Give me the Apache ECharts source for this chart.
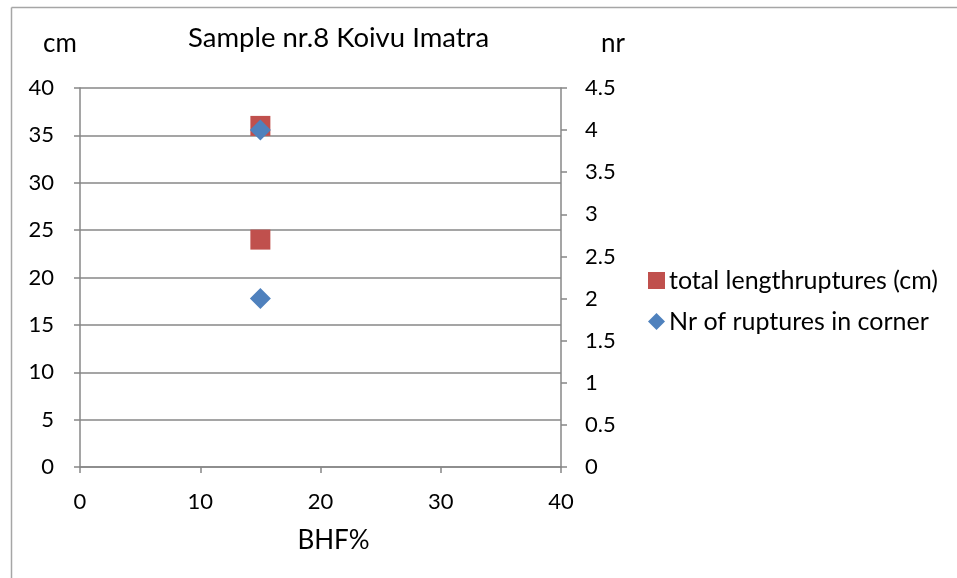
<!DOCTYPE html>
<html>
<head>
<meta charset="utf-8">
<script src="https://cdn.jsdelivr.net/npm/echarts@6/dist/echarts.min.js"></script>
<style>
  html, body { margin: 0; padding: 0; background: #ffffff; }
  #chart { width: 957px; height: 578px; }
</style>
</head>
<body>
<div id="chart"></div>
<script>
// BHF% position of each sample point
const bhf = [15, 15];
// Total length of ruptures, cm (left axis)
const totalLength = [36, 24];
// Number of ruptures in the corner (right axis)
const cornerRuptures = [4, 2];

const seriesNames = ['total lengthruptures (cm)', 'Nr of ruptures in corner'];
const titleText = 'Sample nr.8 Koivu Imatra';
const xName = 'BHF%';
const leftName = 'cm';
const rightName = 'nr';

const FONT = 'Lato';
const GRID = '#878787';

const pairs = (xs, ys) => xs.map((x, i) => [x, ys[i]]);

const chart = echarts.init(document.getElementById('chart'), null, { renderer: 'canvas' });

chart.setOption({
  animation: false,
  backgroundColor: '#ffffff',
  textStyle: { fontFamily: FONT, color: '#000' },
  title: {
    text: titleText,
    left: 188,
    top: 23,
    padding: 0,
    textStyle: { fontFamily: FONT, fontSize: 27.5, fontWeight: 'normal', color: '#000', lineHeight: 30 }
  },
  grid: { left: 80, right: 396, top: 88, bottom: 111, containLabel: false },
  legend: {
    orient: 'vertical',
    left: 648,
    top: 268,
    padding: 0,
    itemWidth: 17,
    itemHeight: 17,
    itemGap: 16,
    textStyle: { fontFamily: FONT, fontSize: 25, color: '#000', lineHeight: 24, padding: [0, 0, 0, -1] },
    data: [
      { name: seriesNames[0], icon: 'rect' },
      { name: seriesNames[1], icon: 'diamond' }
    ]
  },
  xAxis: {
    type: 'value',
    min: 0, max: 40, interval: 10,
    name: xName,
    nameLocation: 'middle',
    nameGap: 61,
    nameTextStyle: { fontFamily: FONT, fontSize: 26, color: '#000', padding: [0, 0, 0, 26] },
    axisLine: { show: true, lineStyle: { color: GRID, width: 1.5 } },
    axisTick: { show: true, inside: false, length: 6, lineStyle: { color: GRID, width: 1.5 } },
    axisLabel: { margin: 24, fontFamily: FONT, fontSize: 22, color: '#000' },
    splitLine: { show: false }
  },
  yAxis: [
    {
      type: 'value',
      position: 'left',
      min: 0, max: 40, interval: 5,
      name: leftName,
      nameLocation: 'end',
      nameGap: 31,
      nameTextStyle: { fontFamily: FONT, fontSize: 26, color: '#000', padding: [0, 40, 0, 0] },
      axisLine: { show: true, lineStyle: { color: GRID, width: 1.5 } },
      axisTick: { show: true, inside: false, length: 6, lineStyle: { color: GRID, width: 1.5 } },
      axisLabel: { margin: 26, fontFamily: FONT, fontSize: 22, color: '#000' },
      splitLine: { show: true, lineStyle: { color: GRID, width: 1.5 } }
    },
    {
      type: 'value',
      position: 'right',
      min: 0, max: 4.5, interval: 0.5,
      name: rightName,
      nameLocation: 'end',
      nameGap: 31,
      nameTextStyle: { fontFamily: FONT, fontSize: 26, color: '#000', padding: [0, 0, 0, 104] },
      axisLine: { show: true, onZero: false, lineStyle: { color: GRID, width: 1.5 } },
      axisTick: { show: true, inside: false, length: 6, lineStyle: { color: GRID, width: 1.5 } },
      axisLabel: { margin: 24, fontFamily: FONT, fontSize: 22, color: '#000' },
      splitLine: { show: false }
    }
  ],
  series: [
    {
      name: seriesNames[0],
      type: 'scatter',
      yAxisIndex: 0,
      symbol: 'rect',
      symbolSize: 20,
      itemStyle: { color: '#C0504D', opacity: 1 },
      data: pairs(bhf, totalLength)
    },
    {
      name: seriesNames[1],
      type: 'scatter',
      yAxisIndex: 1,
      symbol: 'diamond',
      symbolSize: [21, 21],
      itemStyle: { color: '#4F81BD', opacity: 1 },
      data: pairs(bhf, cornerRuptures)
    }
  ],
  graphic: [
    // chart frame: left and top edges
    { type: 'line', silent: true, shape: { x1: 11.5, y1: 7.5, x2: 11.5, y2: 578 }, style: { stroke: '#a6a6a6', lineWidth: 1.5 } },
    { type: 'line', silent: true, shape: { x1: 11.5, y1: 7.5, x2: 957, y2: 7.5 }, style: { stroke: '#a6a6a6', lineWidth: 1.5 } }
  ]
});
</script>
</body>
</html>
